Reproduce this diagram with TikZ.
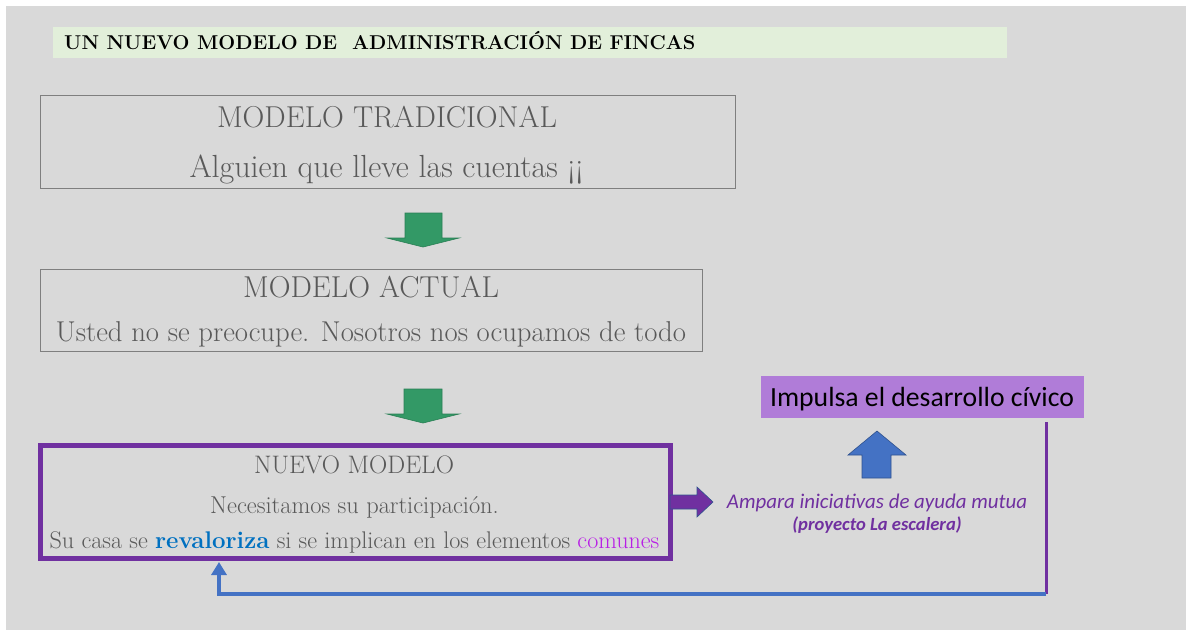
\documentclass[tikz,border=0pt]{standalone}
\usepackage{fontspec}
\newfontfamily\calib{Carlito}
\usetikzlibrary{arrows.meta}
\definecolor{bggray}{HTML}{D9D9D9}
\definecolor{titlebg}{HTML}{E2EFDA}
\definecolor{boxline}{HTML}{7F7F7F}
\definecolor{txtgray}{HTML}{595959}
\definecolor{arrgreen}{HTML}{339966}
\definecolor{arrgreenline}{HTML}{2A7F55}
\definecolor{mpurple}{HTML}{7030A0}
\definecolor{mblue}{HTML}{4472C4}
\definecolor{darkblueline}{HTML}{2F528F}
\definecolor{revblue}{HTML}{0070C0}
\definecolor{comcol}{HTML}{B81EE6}
\definecolor{impbg}{HTML}{B07CD8}
\tikzset{
  oldbox/.style={draw=boxline, line width=0.9pt, inner sep=0pt},
  graytxt/.style={text=txtgray, inner sep=0pt, anchor=base},
  greenarrow/.style={fill=arrgreen, draw=arrgreenline, line width=0.6pt},
  bluearrow/.style={fill=mblue, draw=darkblueline, line width=0.6pt},
  purplearrow/.style={fill=mpurple, draw=darkblueline, line width=0.6pt},
}
\begin{document}
\begin{tikzpicture}[x=1pt,y=-1pt]
\useasboundingbox (0,0) rectangle (1186,630);
\fill[white] (0,0) rectangle (1186,630);
\fill[bggray] (6,6) rectangle (1186,630);

% title
\fill[titlebg] (53,27) rectangle (1007,58);
\node[inner sep=0pt, anchor=base west] (title) at (64,49)
  {\fontsize{20}{22}\selectfont\bfseries UN NUEVO MODELO DE \ ADMINISTRACIÓN DE FINCAS};

% box 1
\node[oldbox, minimum width=695pt, minimum height=93pt] (trad) at (387.5,141.5) {};
\node[graytxt] (tradtitle) at (387,127) {\fontsize{30.2}{32}\selectfont MODELO TRADICIONAL};
\node[graytxt] (tradsub) at (386.5,177) {\fontsize{32}{34}\selectfont Alguien que lleve las cuentas ¡¡};

% arrow 1
\draw[greenarrow] (405,213) -- (442,213) -- (442,238) -- (459,238) -- (423,247) -- (387,238) -- (405,238) -- cycle;

% box 2
\node[oldbox, minimum width=662pt, minimum height=82pt] (actual) at (371,310) {};
\node[graytxt] (actualtitle) at (371,297) {\fontsize{30.2}{32}\selectfont MODELO ACTUAL};
\node[graytxt] (actualsub) at (371,341) {\fontsize{28.7}{30}\selectfont Usted no se preocupe. Nosotros nos ocupamos de todo};

% arrow 2
\draw[greenarrow] (404,389) -- (442,389) -- (442,414) -- (459,414) -- (423,423) -- (387,414) -- (404,414) -- cycle;

% box 3
\node[draw=mpurple, line width=5pt, minimum width=630pt, minimum height=113pt, inner sep=0pt] (nuevo) at (355.5,502) {};
\node[graytxt] (nuevotitle) at (354,473) {\fontsize{25.3}{27}\selectfont NUEVO MODELO};
\node[graytxt] (nuevosub) at (354.5,513) {\fontsize{24.4}{26}\selectfont Necesitamos su participación.};
\node[graytxt] (nuevoline) at (354.5,548) {\fontsize{24.1}{26}\selectfont Su casa se {\bfseries\color{revblue}revaloriza} si se implican en los elementos {\color{comcol}comunes}};

% purple block arrow
\draw[purplearrow] (670,495) -- (697,495) -- (697,487) -- (713,502) -- (697,517) -- (697,509) -- (670,509) -- cycle;

% ampara text
\node[inner sep=0pt, anchor=base, text=mpurple] (ampara) at (877,508)
  {\calib\itshape\fontsize{20.9}{23}\selectfont Ampara iniciativas de ayuda mutua};
\node[inner sep=0pt, anchor=base, text=mpurple] (proyecto) at (877,530)
  {\calib\bfseries\itshape\fontsize{18.6}{20}\selectfont (proyecto La escalera)};

% blue up arrow
\draw[bluearrow] (862,478) -- (862,455) -- (848,455) -- (877,431) -- (906,455) -- (891,455) -- (891,478) -- cycle;

% impulsa box
\node[fill=impbg, minimum width=323pt, minimum height=42pt, inner sep=0pt] (impulsa) at (922.5,397) {};
\node[inner sep=0pt, anchor=base] (impulsatxt) at (922,406)
  {\calib\fontsize{27.7}{29}\selectfont Impulsa el desarrollo cívico};

% feedback connector
\coordinate (fbtop) at (1046,422);
\coordinate (fbcorner) at (1046,594);
\coordinate (fbin) at (219,562);
\draw[mpurple, line width=3pt] (fbtop) -- (fbcorner);
\draw[mblue, line width=4pt, -{Triangle[width=15pt,length=13pt]}] (fbcorner) -| (fbin);
\end{tikzpicture}
\end{document}
